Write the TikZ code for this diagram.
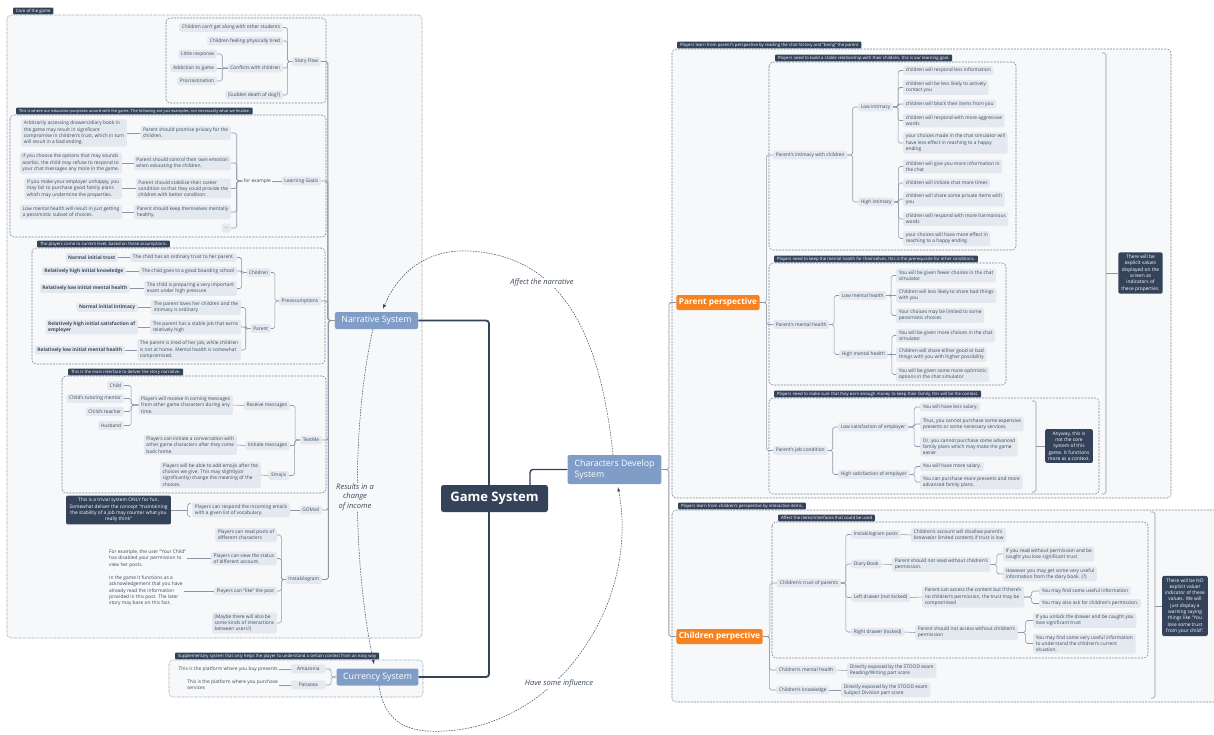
\documentclass[tikz,border=0pt]{standalone}
\usepackage{fontspec}
\setmainfont{Open Sans}
\usetikzlibrary{positioning,arrows,calc}
\definecolor{leafc}{HTML}{E4E9F0}
\definecolor{inkc}{HTML}{3D4A5B}
\definecolor{areaf}{HTML}{F6F8FA}
\definecolor{aread}{HTML}{7C8694}
\definecolor{linec}{HTML}{8E98A5}
\definecolor{branchc}{HTML}{809DC8}
\definecolor{rootc}{HTML}{34435A}
\definecolor{orangec}{HTML}{F7821F}
\tikzset{
  leaf/.style={
    fill=leafc,
    text=inkc,
    rounded corners=1.5pt,
    inner xsep=2.6pt,
    inner ysep=1.8pt,
    minimum height=8.8pt,
    align=left,
    font=\fontsize{4.85}{6.3}\selectfont
  },
  strong/.style={leaf,font=\fontsize{4.85}{6.3}\selectfont\bfseries},
  plain/.style={text=inkc,inner sep=1pt,align=left,font=\fontsize{4.85}{6.3}\selectfont},
  branch/.style={
    fill=branchc,
    text=white,
    rounded corners=2pt,
    inner xsep=6.5pt,
    inner ysep=2pt,
    minimum height=17pt,
    align=left,
    font=\fontsize{8.8}{11}\selectfont
  },
  root/.style={fill=rootc,text=white,rounded corners=2.5pt,minimum width=107pt,minimum height=27pt,font=\fontsize{13}{15}\selectfont\bfseries},
  persp/.style={fill=orangec,text=white,rounded corners=2pt,inner xsep=2.5pt,minimum height=15pt,font=\fontsize{8.3}{10}\selectfont\bfseries},
  callout/.style={fill=rootc,text=white,rounded corners=2pt,inner xsep=3pt,inner ysep=2.5pt,align=center,font=\fontsize{4.85}{6.3}\selectfont},
  tab/.style={
    fill=rootc,
    text=white,
    anchor=south west,
    rounded corners=0.8pt,
    inner xsep=2.8pt,
    inner ysep=1.2pt,
    text height=3.2pt,
    text depth=1pt,
    font=\fontsize{4.3}{5}\selectfont
  },
  relnote/.style={text=inkc,fill=white,inner sep=1pt,align=center,font=\fontsize{7.5}{9.4}\selectfont\itshape},
  area/.style={draw=aread,fill=areaf,line width=0.55pt,dash pattern=on 2pt off 1.2pt,rounded corners=4pt},
  dotarea/.style={area,dash pattern=on 0.5pt off 0.8pt},
  link/.style={draw=linec,line width=0.55pt,rounded corners=1.8pt},
  linkb/.style={link,line width=0.85pt},
  fork/.style={to path={-| ($(\tikztostart)!.5!(\tikztotarget)$) |- (\tikztotarget)}},
  trunk/.style={draw=rootc,line width=1.8pt,rounded corners=3pt},
  rel/.style={draw=inkc,line width=0.5pt,dash pattern=on 1.6pt off 1.1pt,->,>=latex}
}

\begin{document}
\begin{tikzpicture}[x=1pt,y=-1pt]

	\fill[white] (0,0) rectangle (1214,734);
	\useasboundingbox (0,0) rectangle (1214,734);

	% boundaries
	\draw[dotarea] (7,15) rectangle (422,638);
	\draw[area] (166,18) rectangle (326,103);
	\draw[area] (10,115) rectangle (326,237);
	\draw[area] (32,248) rectangle (325,364);
	\draw[area] (62,376) rectangle (326,493);
	\draw[dotarea] (169,660) rectangle (423,697);
	\draw[area] (672,49) rectangle (1171,498);
	\draw[area] (769,62) rectangle (1016,250);
	\draw[area] (769,263) rectangle (1006,385);
	\draw[area] (769,398) rectangle (1099,494);
	\draw[area] (672,510) rectangle (1222,702);
	\draw[area] (772,522) rectangle (1148,658);

	\node[tab] (tcore) at (13,14.5) {Core of the game};
	\node[tab, font=\fontsize{3.95}{5}\selectfont] (tlg) at (16,114.5) {This is where our education purposes accord with the game. The following are just examples, not necessarily what we finalize.};
	\node[tab] (tpre) at (37,247.5) {The players come to current level, based on these assumptions.};
	\node[tab] (ttm) at (68,375.5) {This is the main interface to deliver the story narrative.};
	\node[tab] (tcur) at (175,659.5) {Supplementary system that only helps the player to understand a certain context from an easy way};
	\node[tab] (tpar) at (677,48.5) {Players learn from parent's perspective by reading the chat history and “being” the parent};
	\node[tab] (tint) at (775,61.5) {Players need to build a stable relationship with their children, this is our learning goal.};
	\node[tab] (tmen) at (774,262.5) {Players need to keep the mental health for themselves, this is the prerequisite for other conditions.};
	\node[tab] (tjob) at (774,397.5) {Players need to make sure that they earn enough money to keep their family, this will be the context.};
	\node[tab] (tchi) at (678,509.5) {Players learn from children's perspective by interactive items.};
	\node[tab] (ttru) at (778,521.5) {Affect the items/interfaces that could be used};

	% centre
	\node[root] (gs) at (494.5,498.5) {Game System};
	\node[branch] (narr) at (376.5,320.5) {Narrative System};
	\node[branch] (cur) at (377.5,677) {Currency System};
	\node[branch, minimum height=29pt, inner xsep=7pt] (chars) at (614.5,469.5) {Characters Develop\\System};

	% story flow
	\node[leaf, anchor=east] (sflow) at (321,61.5) {Story Flow};
	\node[leaf, anchor=east] (sf1) at (283,27.5) {Children can't get along with other students};
	\node[leaf, anchor=east] (sf2) at (283,41) {Children feeling physically tired};
	\node[leaf, anchor=east] (conf) at (283,68) {Conflicts with children};
	\node[leaf, anchor=east] (sf4) at (283,95) {(Sudden death of dog?)};
	\node[leaf, anchor=east] (cf1) at (217,54) {Little response};
	\node[leaf, anchor=east] (cf2) at (217,68) {Addiction to game};
	\node[leaf, anchor=east] (cf3) at (217,81) {Procrastination};

	% learning goals
	\node[leaf, anchor=east] (lgoal) at (321,181) {Learning Goals};
	\node[plain, anchor=east] (forex) at (272,181) {for example};
	\node[leaf, anchor=east] (lg1) at (231,133) {Parent should promise privacy for the\\children.};
	\node[leaf, anchor=east] (lg2) at (231,163) {Parent should control their own emotion\\when educating the children.};
	\node[leaf, anchor=east] (lg3) at (231,188.5) {Parent should stabilize their career\\condition so that they could provide the\\children with better condition.};
	\node[leaf, anchor=east] (lg4) at (231,212) {Parent should keep themselves mentally\\healthy.};
	\node[leaf, anchor=east] (lg5) at (231,228) {...};
	\node[leaf, anchor=east] (ex1) at (127,133) {Arbitrarily accessing drawers/diary book in\\the game may result in significant\\compromise in children's trust, which in turn\\will result in a bad ending.};
	\node[leaf, anchor=east] (ex2) at (122,163) {If you choose the options that may sounds\\acerbic, the child may refuse to respond to\\your chat messages any more in the game.};
	\node[leaf, anchor=east] (ex3) at (122,188.5) {If you make your employer unhappy, you\\may fail to purchase good family plans\\which may undermine the properties.};
	\node[leaf, anchor=east] (ex4) at (122,212) {Low mental health will result in just getting\\a pessimistic subset of choices.};

	% preassumptions
	\node[leaf, anchor=east] (preas) at (321,301) {Preassumptions};
	\node[leaf, anchor=east] (pchild) at (271,272.5) {Children};
	\node[leaf, anchor=east] (pparent) at (271,328.5) {Parent};
	\node[leaf, anchor=east] (pc1) at (237,257.5) {The child has an ordinary trust to her parent.};
	\node[leaf, anchor=east] (pc2) at (237,271) {The child goes to a good boarding school};
	\node[leaf, anchor=east] (pc3) at (237,288.5) {The child is preparing a very important\\exam under high pressure};
	\node[leaf, anchor=east] (pp1) at (241,307.5) {The parent loves her children and the\\intimacy is ordinary};
	\node[leaf, anchor=east] (pp2) at (241,327) {The parent has a stable job that earns\\relatively high};
	\node[leaf, anchor=east] (pp3) at (241,350) {The parent is tired of her job, while children\\is not at home. Mental health is somewhat\\compromised.};
	\node[strong, anchor=east] (ps1) at (118,257.5) {Normal initial trust};
	\node[strong, anchor=east] (ps2) at (126,271) {Relatively high initial knowledge};
	\node[strong, anchor=east] (ps3) at (130,288.5) {Relatively low initial mental health};
	\node[strong, anchor=east] (ps4) at (138,307.5) {Normal initial intimacy};
	\node[strong, anchor=east] (ps5) at (138,327) {Relatively high initial satisfaction of\\employer};
	\node[strong, anchor=east] (ps6) at (125,350) {Relatively low initial mental health};

	% textme
	\node[leaf, anchor=east] (textme) at (322,440) {TextMe};
	\node[leaf, anchor=east] (recv) at (290,405.5) {Receive messages};
	\node[leaf, anchor=east] (init) at (290,445.5) {Initiate messages};
	\node[leaf, anchor=east] (emoji) at (289,475.5) {Emojis};
	\node[leaf, anchor=east] (recvd) at (233,405) {Players will receive in coming messages\\from other game characters during any\\time.};
	\node[leaf, anchor=east] (who1) at (124,385.5) {Child};
	\node[leaf, anchor=east] (who2) at (124,398.5) {Child's tutoring mentor};
	\node[leaf, anchor=east] (who3) at (124,411.5) {Child's teacher};
	\node[leaf, anchor=east] (who4) at (124,425.5) {Husband};
	\node[leaf, anchor=east] (initd) at (237,445) {Players can initiate a conversation with\\other game characters after they come\\back home.};
	\node[leaf, anchor=east] (emojid) at (261,475) {Players will be able to add emojis after the\\choices we give. This may slightly(or\\significantly) change the meaning of the\\choices.};

	% gomail
	\node[leaf, anchor=east] (gomail) at (322,510) {GOMail};
	\node[leaf, anchor=east] (gmleaf) at (290,510) {Players can respond the incoming emails\\with a given list of vocabulary.};
	\node[callout, inner xsep=3.5pt] (gmnote) at (118.5,510) {This is a trivial system ONLY for fun.\\Somewhat deliver the concept “maintaining\\the stability of a job may counter what you\\really think”};

	% instakilogram
	\node[leaf, anchor=east] (insta) at (322,579.5) {Instakilogram};
	\node[leaf, anchor=east] (ik1) at (277,535) {Players can read posts of\\different characters};
	\node[leaf, anchor=east] (ik2) at (277,558.5) {Players can view the status\\of different account.};
	\node[leaf, anchor=east] (ik3) at (277,591) {Players can “like” the post};
	\node[leaf, anchor=east] (ik4) at (277,623) {(Maybe there will also be\\some kinds of interactions\\between users?)};
	\node[plain, anchor=west] (ikn2) at (108,558.5) {For example, the user “Your Child”\\has disabled your permission to\\view her posts.};
	\node[plain, anchor=west] (ikn3) at (108,591) {In the game it functions as a\\acknowledgement that you have\\already read the information\\provided in this post. The later\\story may base on this fact.};

	% currency
	\node[leaf, anchor=east, minimum width=35pt] (amaz) at (326,669) {Amazonia};
	\node[leaf, anchor=east, minimum width=35pt] (pana) at (326,685) {Panacea};
	\node[plain, anchor=east] (amazn) at (279,669) {This is the platform where you buy presents};
	\node[plain, anchor=east] (panan) at (279,685) {This is the platform where you purchase\\services};

	% parent perspective
	\node[persp] (ppersp) at (718,302.5) {Parent perspective};
	\node[leaf, anchor=west] (pint) at (773,155) {Parent's intimacy with children};
	\node[leaf, anchor=west] (pmen) at (773,324.5) {Parent's mental health};
	\node[leaf, anchor=west] (pjob) at (773,450.5) {Parent's job condition};
	\node[leaf, anchor=west] (lowi) at (858,107) {Low intimacy};
	\node[leaf, anchor=west] (highi) at (858,202) {High intimacy};
	\node[leaf, anchor=west] (li1) at (903,70.5) {children will respond less information};
	\node[leaf, anchor=west] (li2) at (903,87.5) {children will be less likely to actively\\contact you};
	\node[leaf, anchor=west] (li3) at (903,104) {children will block their items from you};
	\node[leaf, anchor=west] (li4) at (903,120.5) {children will respond with more aggressive\\words};
	\node[leaf, anchor=west] (li5) at (903,143) {your choices made in the chat simulator will\\have less effect in reaching to a happy\\ending};
	\node[leaf, anchor=west] (hi1) at (903,166.5) {children will give you more information in\\the chat};
	\node[leaf, anchor=west] (hi2) at (903,183) {children will initiate chat more times};
	\node[leaf, anchor=west] (hi3) at (903,199) {children will share some private items with\\you};
	\node[leaf, anchor=west] (hi4) at (903,219) {children will respond with more harmonious\\words};
	\node[leaf, anchor=west] (hi5) at (903,238.5) {your choices will have more effect in\\reaching to a happy ending};

	\node[leaf, anchor=west] (lowm) at (839,295.5) {Low mental health};
	\node[leaf, anchor=west] (highm) at (839,354.5) {High mental health};
	\node[leaf, anchor=west] (lm1) at (896,275.5) {You will be given fewer choices in the chat\\simulator};
	\node[leaf, anchor=west] (lm2) at (896,295.5) {Children will less likely to share bad things\\with you};
	\node[leaf, anchor=west] (lm3) at (896,315.5) {Your choices may be limited to some\\pessimistic choices};
	\node[leaf, anchor=west] (hm1) at (896,335.5) {You will be given more choices in the chat\\simulator};
	\node[leaf, anchor=west] (hm2) at (896,354.5) {Children will share either good or bad\\things with you with higher possibility};
	\node[leaf, anchor=west] (hm3) at (896,374.5) {You will be given some more optimistic\\options in the chat simulator};

	\node[leaf, anchor=west] (lows) at (838,427) {Low satisfaction of employer};
	\node[leaf, anchor=west] (highs) at (838,474.5) {High satisfaction of employer};
	\node[leaf, anchor=west] (ls1) at (920,407) {You will have less salary.};
	\node[leaf, anchor=west] (ls2) at (920,424) {Thus, you cannot purchase some expensive\\presents or some necessary services.};
	\node[leaf, anchor=west] (ls3) at (920,446.5) {Or, you cannot purchase some advanced\\family plans which may make the game\\easier};
	\node[leaf, anchor=west] (hs1) at (920,466.5) {You will have more salary.};
	\node[leaf, anchor=west] (hs2) at (920,482) {You can purchase more presents and more\\advanced family plans.};

	\node[callout] (pcall) at (1140.5,273) {There will be\\explicit values\\displayed on the\\screen as\\indicators of\\these properties.};
	\node[callout] (jcall) at (1069,446) {Anyway, this is\\not the core\\system of this\\game. It functions\\more as a context.};

	% children perspective
	\node[persp] (cpersp) at (719.5,636.5) {Children perpective};
	\node[leaf, anchor=west] (ctrust) at (777,583) {Children's trust of parents};
	\node[leaf, anchor=west] (cmen) at (776,670) {Children's mental health};
	\node[leaf, anchor=west] (cknow) at (776,690) {Children's knowledge};
	\node[leaf, anchor=west] (cmend) at (847,670.5) {Directly exposed by the STOOD exam\\Reading/Writing part score};
	\node[leaf, anchor=west] (cknowd) at (841,690) {Directly exposed by the STOOD exam\\Subject Division part score};
	\node[leaf, anchor=west] (tposts) at (851,534.5) {Instakilogram posts};
	\node[leaf, anchor=west] (tdiary) at (851,564) {Diary Book};
	\node[leaf, anchor=west] (tleft) at (851,597.5) {Left drawer (not locked)};
	\node[leaf, anchor=west] (tright) at (851,632) {Right drawer (locked)};
	\node[leaf, anchor=west] (tposd) at (911,535) {Children's account will disallow parent's\\browse(or limited content) if trust is low};
	\node[leaf, anchor=west] (tdiad) at (892,564.5) {Parent should not read without children's\\permission.};
	\node[leaf, anchor=west] (tleftd) at (922,597) {Parent can access the content but if there's\\no children's permission, the trust may be\\compromised};
	\node[leaf, anchor=west] (trigd) at (915,632.5) {Parent should not access without children's\\permission};
	\node[leaf, anchor=west] (dia1) at (1003,554) {If you read without permission and be\\caught you lose significant trust};
	\node[leaf, anchor=west] (dia2) at (1003,574) {However you may get some very useful\\information from the diary book. (?)};
	\node[leaf, anchor=west] (lef1) at (1039,591) {You may find some useful information};
	\node[leaf, anchor=west] (lef2) at (1039,603.5) {You may also ask for children's permission.};
	\node[leaf, anchor=west] (rig1) at (1033,620.5) {If you unlock the drawer and be caught you\\lose significant trust};
	\node[leaf, anchor=west] (rig2) at (1033,643.5) {You may find some very useful information\\to understand the children's current\\situation.};
	\node[callout, anchor=west] (ccall) at (1162,606) {There will be NO\\explicit value/\\indicator of these\\values. We will\\just display a\\warning saying\\things like “You\\lose some trust\\from your child”.};

	% trunk
	\draw[trunk] ([xshift=-5.5pt]gs.north) |- (narr.east);
	\draw[trunk] ([xshift=-5.5pt]gs.south) |- (cur.east);
	\draw[trunk, line width=1.4pt] ([xshift=35.5pt]gs.north) |- (chars.west);

	% left branches
	\draw[linkb] (narr.west) edge[fork] (sflow.east) edge[fork] (lgoal.east) edge[fork] (preas.east)
		edge[fork] (textme.east) edge[fork] (gomail.east) edge[fork] (insta.east);
	\draw[link] (sflow.west) edge[fork] (sf1.east) edge[fork] (sf2.east) edge[fork] (conf.east) edge[fork] (sf4.east);
	\draw[link] (conf.west) edge[fork] (cf1.east) edge[fork] (cf3.east);
	\draw[link] (conf.west) -- (cf2.east);
	\draw[link] (lgoal.west) -- (forex.east);
	\draw[link] (forex.west) edge[fork] (lg1.east) edge[fork] (lg2.east) edge[fork] (lg3.east) edge[fork] (lg4.east) edge[fork] (lg5.east);
	\draw[link] (lg1.west) -- (ex1.east);
	\draw[link] (lg2.west) -- (ex2.east);
	\draw[link] (lg3.west) -- (ex3.east);
	\draw[link] (lg4.west) -- (ex4.east);
	\draw[link] (preas.west) edge[fork] (pchild.east) edge[fork] (pparent.east);
	\draw[link] (pchild.west) edge[fork] (pc1.east) edge[fork] (pc2.east) edge[fork] (pc3.east);
	\draw[link] (pparent.west) edge[fork] (pp1.east) edge[fork] (pp2.east) edge[fork] (pp3.east);
	\draw[link] (pc1.west) -- (ps1.east);
	\draw[link] (pc2.west) -- (ps2.east);
	\draw[link] (pc3.west) -- (ps3.east);
	\draw[link] (pp1.west) -- (ps4.east);
	\draw[link] (pp2.west) -- (ps5.east);
	\draw[link] (pp3.west) -- (ps6.east);
	\draw[link] (textme.west) edge[fork] (recv.east) edge[fork] (init.east) edge[fork] (emoji.east);
	\draw[link] (recv.west) -- (recvd.east);
	\draw[link] (init.west) -- (initd.east);
	\draw[link] (emoji.west) -- (emojid.east);
	\draw[link] (recvd.west) edge[fork] (who1.east) edge[fork] (who2.east) edge[fork] (who3.east) edge[fork] (who4.east);
	\draw[link] (gomail.west) -- (gmleaf.east);
	\draw[link] ([xshift=-1.5pt,yshift=-1pt]gmleaf.north west) -- ++(-3,0) |- ([xshift=-1.5pt,yshift=1pt]gmleaf.south west);
	\draw[link] (gmnote.east) -- ([xshift=-4.5pt]gmleaf.west);
	\draw[link] (insta.west) edge[fork] (ik1.east) edge[fork] (ik2.east) edge[fork] (ik3.east) edge[fork] (ik4.east);
	\draw[link] (ik2.west) -- (ikn2.east);
	\draw[link] (ik3.west) -- (ikn3.east);
	\draw[link] (cur.west) edge[fork] (amaz.east) edge[fork] (pana.east);
	\draw[link] (amaz.west) -- (amazn.east);
	\draw[link] (pana.west) -- (panan.east);

	% right branches
	\draw[linkb] (chars.east) edge[fork] (ppersp.west) edge[fork] (cpersp.west);
	\draw[link] (ppersp.east) edge[fork] (pint.west) edge[fork] (pmen.west) edge[fork] (pjob.west);
	\draw[link] (pint.east) edge[fork] (lowi.west) edge[fork] (highi.west);
	\draw[link] (lowi.east) edge[fork] (li1.west) edge[fork] (li2.west) edge[fork] (li3.west) edge[fork] (li4.west) edge[fork] (li5.west);
	\draw[link] (highi.east) edge[fork] (hi1.west) edge[fork] (hi2.west) edge[fork] (hi3.west) edge[fork] (hi4.west) edge[fork] (hi5.west);
	\draw[link] (pmen.east) edge[fork] (lowm.west) edge[fork] (highm.west);
	\draw[link] (lowm.east) edge[fork] (lm1.west) edge[fork] (lm3.west);
	\draw[link] (lowm.east) -- (lm2.west);
	\draw[link] (highm.east) edge[fork] (hm1.west) edge[fork] (hm3.west);
	\draw[link] (highm.east) -- (hm2.west);
	\draw[link] (pjob.east) edge[fork] (lows.west) edge[fork] (highs.west);
	\draw[link] (lows.east) edge[fork] (ls1.west) edge[fork] (ls2.west) edge[fork] (ls3.west);
	\draw[link] (highs.east) edge[fork] (hs1.west) edge[fork] (hs2.west);
	\draw[link] (cpersp.east) edge[fork] (ctrust.west) edge[fork] (cmen.west) edge[fork] (cknow.west);
	\draw[link] (ctrust.east) edge[fork] (tposts.west) edge[fork] (tdiary.west) edge[fork] (tleft.west) edge[fork] (tright.west);
	\draw[link] (tposts.east) -- (tposd.west);
	\draw[link] (tdiary.east) -- (tdiad.west);
	\draw[link] (tleft.east) -- (tleftd.west);
	\draw[link] (tright.east) -- (trigd.west);
	\draw[link] (tdiad.east) edge[fork] (dia1.west) edge[fork] (dia2.west);
	\draw[link] (tleftd.east) edge[fork] (lef1.west) edge[fork] (lef2.west);
	\draw[link] (trigd.east) edge[fork] (rig1.west) edge[fork] (rig2.west);
	\draw[link] (cmen.east) -- (cmend.west);
	\draw[link] (cknow.east) -- (cknowd.west);

	% summaries
	\coordinate (psumt) at (1102,53);
	\coordinate (psumb) at (1102,494);
	\coordinate (psumm) at (1106,273);
	\draw[link] (psumt) -- ++(4,0) |- (psumb);
	\draw[link] (psumm) -- (pcall.west);
	\coordinate (jsumt) at (1032,401);
	\coordinate (jsumb) at (1032,492);
	\coordinate (jsumm) at (1036,446);
	\draw[link] (jsumt) -- ++(4,0) |- (jsumb);
	\draw[link] (jsumm) -- (jcall.west);
	\coordinate (csumt) at (1151,512);
	\coordinate (csumb) at (1151,698);
	\coordinate (csumm) at (1155,606);
	\draw[link] (csumt) -- ++(4,0) |- (csumb);
	\draw[link] (csumm) -- (ccall.west);

	% relations
	\draw[rel] ([xshift=-1.5pt]chars.north) .. controls (600,330) and (560,255) .. (468,251)
		.. controls (420,249) and (395,280) .. ([xshift=6.5pt,yshift=3pt]narr.north);
	\draw[rel] ([xshift=-3.5pt]narr.south) .. controls (352,420) and (352,560) .. ([xshift=-3.5pt,yshift=4pt]cur.north);
	\draw[rel] ([xshift=1.5pt]cur.south) .. controls (385,725) and (410,733) .. (445,731)
		.. controls (560,725) and (640,600) .. ([xshift=3.5pt,yshift=-3pt]chars.south);
	\node[relnote] (rl1) at (542,283) {Affect the narrative};
	\node[relnote, fill=areaf] (rl2) at (355,497) {Results in a\\change\\of income};
	\node[relnote] (rl3) at (559,684) {Have some influence};

\end{tikzpicture}
\end{document}
